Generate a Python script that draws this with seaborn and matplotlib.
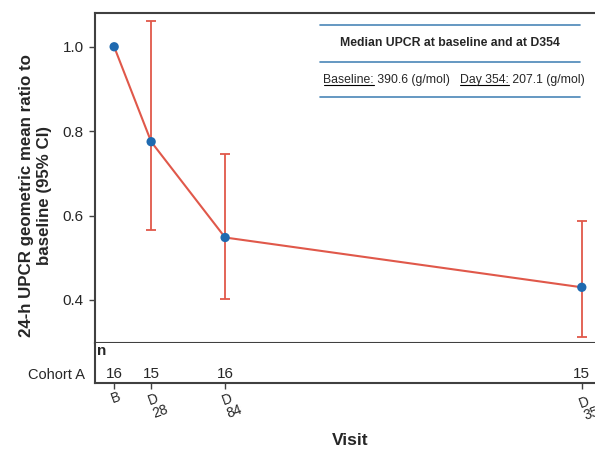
import numpy as np
import pandas as pd
import matplotlib
matplotlib.use("Agg")
import matplotlib.pyplot as plt
import seaborn as sns
from matplotlib.lines import Line2D

sns.set_style("white")
plt.rcParams['font.family'] = ['Liberation Sans', 'DejaVu Sans']

# Données
jours = [0, 28, 84, 354]
visites = ["B", "D\n28", "D\n84", "D\n354"]
ratio = [1.0, 0.775, 0.548, 0.430]
ic_bas = [1.0, 0.566, 0.403, 0.313]
ic_haut = [1.0, 1.062, 0.745, 0.587]
n_cohorte = [16, 15, 16, 15]

df = pd.DataFrame({'jour': jours, 'ratio': ratio, 'bas': ic_bas, 'haut': ic_haut})

rouge = '#E0584A'
bleu = '#1F6AB0'
gris = '#404040'

fig = plt.figure(figsize=(5.95, 4.55), dpi=100)
W, H = 595, 455
ax = fig.add_axes([95 / W, 1 - 343 / H, 1 - 95 / W, 330 / H])
ax2 = fig.add_axes([95 / W, 1 - 383 / H, 1 - 95 / W, 40 / H], sharex=ax)

# Barres d'erreur (IC 95 %)
m = df['jour'] > 0
ax.errorbar(df.loc[m, 'jour'], df.loc[m, 'ratio'],
            yerr=[df.loc[m, 'ratio'] - df.loc[m, 'bas'], df.loc[m, 'haut'] - df.loc[m, 'ratio']],
            fmt='none', ecolor=rouge, elinewidth=1.3, capsize=3.5, capthick=1.3, zorder=2)
sns.lineplot(data=df, x='jour', y='ratio', color=rouge, linewidth=1.5, ax=ax, zorder=3)
sns.scatterplot(data=df, x='jour', y='ratio', color=bleu, s=45, edgecolor='none', ax=ax, zorder=4)

ax.set_xlim(-14.5, 364)
ax.set_ylim(0.298, 1.08)
ax.set_yticks([0.4, 0.6, 0.8, 1.0])
ax.set_yticklabels(['0.4', '0.6', '0.8', '1.0'], fontsize=11)
ax.tick_params(axis='y', length=4, width=1, color=gris, pad=4, left=True)
ax.tick_params(axis='x', bottom=False, labelbottom=False)
ax.set_xlabel('')
ax.set_ylabel("24-h UPCR geometric mean ratio to\nbaseline (95% CI)",
              fontsize=12.2, fontweight='bold', linespacing=1.25)
ax.yaxis.set_label_coords(-0.085, 0.448)
for s in ['top', 'left', 'bottom']:
    ax.spines[s].set_color(gris)
    ax.spines[s].set_linewidth(1.5)
ax.spines['right'].set_visible(False)

# Encadré des médianes
for yy in [0.964, 0.852, 0.745]:
    ax.add_line(Line2D([0.45, 0.97], [yy, yy], transform=ax.transAxes, color='#4A86B8', lw=1.2))
ax.text(0.71, 0.908, "Median UPCR at baseline and at D354", transform=ax.transAxes,
        ha='center', va='center', fontsize=8.8, fontweight='bold')
morceaux = [("Baseline:", True), (" 390.6 (g/mol)   ", False), ("Day 354:", True), (" 207.1 (g/mol)", False)]
fig.canvas.draw()
rend = fig.canvas.get_renderer()
x0 = 0.457
for txt, souligne in morceaux:
    t = ax.text(x0, 0.798, txt, transform=ax.transAxes, ha='left', va='center', fontsize=8.8)
    bb = t.get_window_extent(renderer=rend).transformed(ax.transAxes.inverted())
    if souligne:
        ax.add_line(Line2D([bb.x0, bb.x1], [bb.y0 + 0.002, bb.y0 + 0.002], transform=ax.transAxes,
                           color='black', lw=0.8))
    x0 = bb.x1

# Tableau des effectifs
ax2.set_ylim(0, 1)
ax2.set_yticks([])
for xj, nv in zip(jours, n_cohorte):
    ax2.text(xj, 0.05, str(nv), ha='center', va='bottom', fontsize=11)
ax2.text(0.005, 0.98, "n", transform=ax2.transAxes, ha='left', va='top', fontsize=11, fontweight='bold')
ax2.text(-0.02, 0.2, "Cohort A", transform=ax2.transAxes, ha='right', va='center', fontsize=10.5)
ax2.set_xticks(jours)
ax2.set_xticklabels([])
for xj, lab in zip(jours, visites):
    ax2.annotate(lab, xy=(xj, 0), xycoords=('data', 'axes fraction'), xytext=(-3.6, -4.5),
                 textcoords='offset points', rotation=20, ha='left', va='top',
                 fontsize=10, linespacing=0.95, multialignment='left', annotation_clip=False)
ax2.tick_params(axis='x', bottom=True, length=4, width=1, color=gris, pad=2)
for s in ['left', 'bottom']:
    ax2.spines[s].set_color(gris)
    ax2.spines[s].set_linewidth(1.5)
ax2.spines['top'].set_visible(False)
ax2.spines['right'].set_visible(False)
ax2.set_xlabel("Visit", fontsize=12.5, fontweight='bold')
ax2.xaxis.set_label_coords(0.51, -1.25)

fig.savefig("out.png", dpi=100)
